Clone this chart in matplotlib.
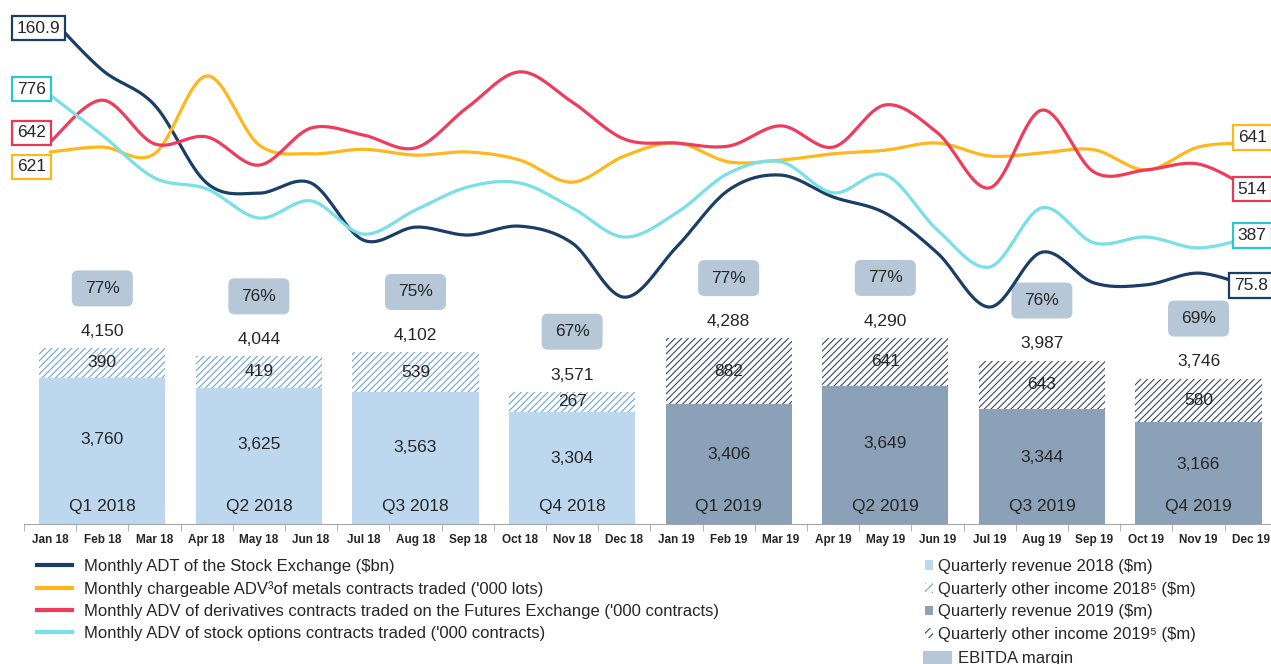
import numpy as np
import matplotlib
matplotlib.use('Agg')
import matplotlib.pyplot as plt
from matplotlib.patches import FancyBboxPatch, Patch
from matplotlib.lines import Line2D

plt.rcParams['font.family'] = ['Liberation Sans', 'DejaVu Sans']
plt.rcParams['hatch.linewidth'] = 0.8

TXT = '#262626'

months = ['Jan 18', 'Feb 18', 'Mar 18', 'Apr 18', 'May 18', 'Jun 18',
          'Jul 18', 'Aug 18', 'Sep 18', 'Oct 18', 'Nov 18', 'Dec 18',
          'Jan 19', 'Feb 19', 'Mar 19', 'Apr 19', 'May 19', 'Jun 19',
          'Jul 19', 'Aug 19', 'Sep 19', 'Oct 19', 'Nov 19', 'Dec 19']
quarters = ['Q1 2018', 'Q2 2018', 'Q3 2018', 'Q4 2018',
            'Q1 2019', 'Q2 2019', 'Q3 2019', 'Q4 2019']
revenue = [3760, 3625, 3563, 3304, 3406, 3649, 3344, 3166]
other_income = [390, 419, 539, 267, 882, 641, 643, 580]
ebitda_margin = [77, 76, 75, 67, 77, 77, 76, 69]

# monthly series
adt_stock = [160.9, 144.2, 133.2, 108.6, 105.4, 108.6, 90.6, 94.7, 92.2, 95.0, 89.7, 72.6,
             88.4, 106.4, 111.1, 104.2, 99.1, 86.5, 69.5, 86.8, 77.1, 76.5, 80.2, 75.8]
adv_metals = [621, 632, 617, 790, 637, 617, 627, 614, 621, 603, 554, 612,
              641, 599, 603, 617, 625, 641, 612, 619, 626, 581, 632, 641]
adv_derivs = [642, 756, 637, 656, 579, 680, 661, 626, 737, 833, 751, 650,
              639, 631, 686, 628, 743, 667, 517, 729, 560, 566, 582, 514]
adv_options = [776, 666, 549, 519, 439, 486, 395, 461, 524, 535, 467, 387,
               453, 562, 593, 508, 557, 406, 305, 467, 371, 387, 357, 387]


def smooth(x, y, n=20):
    # Excel-like smoothed line (cubic bezier through every point)
    p = np.column_stack([x, y]).astype(float)
    pp = np.vstack([p[0], p, p[-1]])
    t = np.linspace(0, 1, n, endpoint=False)[:, None]
    out = []
    for i in range(len(p) - 1):
        p0, p3 = pp[i + 1], pp[i + 2]
        p1 = p0 + (pp[i + 2] - pp[i]) / 6
        p2 = p3 - (pp[i + 3] - pp[i + 1]) / 6
        seg = ((1 - t) ** 3) * p0 + 3 * ((1 - t) ** 2) * t * p1 + 3 * (1 - t) * t ** 2 * p2 + t ** 3 * p3
        out.append(seg)
    out.append(p[-1][None, :])
    out = np.vstack(out)
    return out[:, 0], out[:, 1]


fig = plt.figure(figsize=(12.71, 6.64), dpi=100)
ax = fig.add_axes([24 / 1271, 140 / 664, 1252.8 / 1271, 524 / 664])
ax.set_xlim(-0.5, 23.5)
ybot, ytop = 1800, 8813
ax.set_ylim(ybot, ytop)
px_y = (ytop - ybot) / 524.0          # bar units per pixel
px_x = 1 / 52.2                        # months per pixel

xq = np.arange(len(quarters)) * 3 + 1
is18 = [q.endswith('2018') for q in quarters]
rev_col = ['#BDD7EE' if a else '#8BA1B7' for a in is18]
hat_col = ['#6FA3D6' if a else '#3B4657' for a in is18]
totals = [r + o for r, o in zip(revenue, other_income)]

ax.bar(xq, revenue, width=2.42, color=rev_col, linewidth=0, zorder=2)
ax.bar(xq, other_income, bottom=revenue, width=2.42, color='white',
       edgecolor=hat_col, hatch='/////', linewidth=0, zorder=2)

for x, r, o, tot, q, m in zip(xq, revenue, other_income, totals, quarters, ebitda_margin):
    ax.text(x, ybot + 0.58 * (r - ybot), f'{r:,}', ha='center', va='center', fontsize=12.5, color=TXT, zorder=3)
    ax.text(x, r + o / 2, f'{o:,}', ha='center', va='center', fontsize=12.5, color=TXT, zorder=3)
    ax.annotate(f'{tot:,}', (x, tot), xytext=(0, 12), textcoords='offset points',
                ha='center', va='center', fontsize=12.5, color=TXT)
    ax.annotate(q, (x, ybot), xytext=(0, 12.3), textcoords='offset points',
                ha='center', va='center', fontsize=12.5, color=TXT)
    cy = tot + 60 * px_y
    w, h = 61 * px_x, 36 * px_y
    box = FancyBboxPatch((x - w / 2, cy - h / 2), w, h,
                         boxstyle='round,pad=0,rounding_size=0.12',
                         mutation_aspect=px_y / px_x,
                         facecolor='#B6C8D8', edgecolor='none', zorder=3)
    ax.add_patch(box)
    ax.text(x, cy, f'{m}%', ha='center', va='center', fontsize=12.5, color=TXT, zorder=4)

for s in ['left', 'right', 'top']:
    ax.spines[s].set_visible(False)
ax.spines['bottom'].set_color('#A6A6A6')
ax.set_yticks([])
ax.set_xticks(range(len(months)))
ax.set_xticklabels(months, fontsize=8.5, fontweight='bold', color=TXT)
ax.set_xticks(np.arange(-0.5, len(months), 1), minor=True)
ax.tick_params(axis='x', which='major', length=0, pad=7)
ax.tick_params(axis='x', which='minor', length=5, color='#A6A6A6')

mx = np.arange(len(months))
series = [
    # values, ylim, line colour, box colour, fmt, start offset, end offset
    (adt_stock, (1.1, 166.3), '#1B3E66', '#1B3E66', '{:.1f}', (-8.3, -7.9), (0.4, 1.1)),
    (adv_metals, (-205.6, 958.7), '#FFB81C', '#FFB81C', '{:.0f}', (-13.3, -10.8), (1.1, 4.0)),
    (adv_derivs, (-398.2, 1028.7), '#F03C5C', '#E8385A', '{:.0f}', (-13.3, 6.5), (1.1, 0)),
    (adv_options, (-399.0, 1036.2), '#78E0E6', '#2EC5D0', '{:.0f}', (-13.3, 4.3), (1.1, 1.1)),
]
line_axes = []
for vals, lim, lc, bc, fmt, o1, o2 in series:
    axl = ax.twinx()
    axl.set_ylim(*lim)
    axl.axis('off')
    sx, sy = smooth(mx, vals)
    axl.plot(sx, sy, color=lc, lw=2.3, solid_capstyle='round')
    line_axes.append(axl)

top = line_axes[-1]
for (vals, lim, lc, bc, fmt, o1, o2), axl in zip(series, line_axes):
    for i, off in ((0, o1), (len(vals) - 1, o2)):
        top.annotate(fmt.format(vals[i]), (mx[i], vals[i]), xycoords=axl.transData,
                     xytext=off, textcoords='offset points', ha='center', va='center',
                     fontsize=12.5, color=TXT, zorder=6,
                     bbox=dict(boxstyle='square,pad=0.28', fc='white', ec=bc, lw=1.6))

# legends
line_labels = ['Monthly ADT of the Stock Exchange ($bn)',
               'Monthly chargeable ADV\u00b3of metals contracts traded (\'000 lots)',
               'Monthly ADV of derivatives contracts traded on the Futures Exchange (\'000 contracts)',
               'Monthly ADV of stock options contracts traded (\'000 contracts)']
line_handles = [Line2D([], [], color=s[2], lw=3) for s in series]
fig.legend(line_handles, line_labels, loc='upper left', bbox_to_anchor=(37 / 1271, 1 - 558.5 / 664),
           frameon=False, fontsize=12, handlelength=2.1, handletextpad=0.75,
           labelspacing=0.43, borderpad=0, borderaxespad=0, labelcolor=TXT)

bar_labels = ['Quarterly revenue 2018 ($m)', 'Quarterly other income 2018\u2075 ($m)',
              'Quarterly revenue 2019 ($m)', 'Quarterly other income 2019\u2075 ($m)']
bar_handles = [Patch(facecolor=rev_col[0], linewidth=0),
               Patch(facecolor='white', edgecolor=hat_col[0], hatch='////', linewidth=0),
               Patch(facecolor=rev_col[-1], linewidth=0),
               Patch(facecolor='white', edgecolor=hat_col[-1], hatch='////', linewidth=0)]
fig.legend(bar_handles, bar_labels, loc='upper left', bbox_to_anchor=(925 / 1271, 1 - 559 / 664),
           frameon=False, fontsize=12, handlelength=0.5, handleheight=0.5, handletextpad=0.25,
           labelspacing=0.46, borderpad=0, borderaxespad=0, labelcolor=TXT)
fig.legend([Patch(facecolor='#B6C8D8', linewidth=0)], ['EBITDA margin'], loc='upper left',
           bbox_to_anchor=(923 / 1271, 1 - 651 / 664), frameon=False, fontsize=12,
           handlelength=1.75, handleheight=0.85, handletextpad=0.35,
           borderpad=0, borderaxespad=0, labelcolor=TXT)

fig.savefig('out.png', dpi=100)
